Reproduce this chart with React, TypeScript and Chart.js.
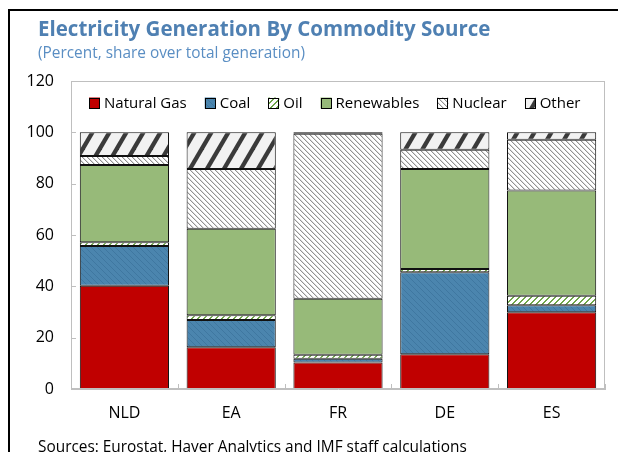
import React, { useEffect, useRef } from "react";
import { Chart, registerables } from "chart.js";

Chart.register(...registerables);

const categories = ["NLD", "EA", "FR", "DE", "ES"];
const seriesLabels = ["Natural Gas", "Coal", "Oil", "Renewables", "Nuclear", "Other"];
const naturalGas = [40.2, 16.3, 10.3, 13.5, 29.9];
const coal = [15.5, 10.6, 1.5, 32.0, 2.7];
const oil = [1.5, 1.8, 1.5, 1.3, 3.7];
const renewables = [30.1, 33.7, 21.9, 38.9, 41.0];
const nuclear = [3.5, 23.3, 64.2, 7.5, 19.8];
const other = [9.2, 14.3, 0.6, 6.8, 2.9];
const yMin = 0;
const yMax = 120;
const yStep = 20;

const TITLE = "Electricity Generation By Commodity Source";
const SUBTITLE = "(Percent, share over total generation)";
const SOURCES = "Sources: Eurostat, Haver Analytics and IMF staff calculations";

const FONT = '"Segoe UI", "Open Sans", "Noto Sans", sans-serif';

function makeTile(w: number, h: number, draw: (c: CanvasRenderingContext2D) => void) {
  const cv = document.createElement("canvas");
  cv.width = w;
  cv.height = h;
  const c = cv.getContext("2d")!;
  draw(c);
  const host = document.createElement("canvas").getContext("2d")!;
  return host.createPattern(cv, "repeat")!;
}

function coalPattern() {
  return makeTile(6, 6, (c) => {
    c.fillStyle = "#4b85ae";
    c.fillRect(0, 0, 6, 6);
    c.fillStyle = "#3f77a0";
    for (let i = 0; i < 6; i++) c.fillRect(i, i, 1, 1);
  });
}

function oilPattern() {
  return makeTile(6, 6, (c) => {
    c.fillStyle = "#ffffff";
    c.fillRect(0, 0, 6, 6);
    c.fillStyle = "#6fa64a";
    for (let i = 0; i < 6; i++) {
      c.fillRect(i, 5 - i, 1, 1);
      c.fillRect((i + 1) % 6, 5 - i, 1, 1);
    }
  });
}

function nuclearPattern() {
  return makeTile(5, 5, (c) => {
    c.fillStyle = "#ffffff";
    c.fillRect(0, 0, 5, 5);
    for (let i = 0; i < 5; i++) {
      c.fillStyle = "#929292";
      c.fillRect(i, i, 1, 1);
      c.fillStyle = "#dcdcdc";
      c.fillRect((i + 1) % 5, i, 1, 1);
    }
  });
}

function otherPattern() {
  const w = 17;
  const h = 29;
  return makeTile(w, h, (c) => {
    c.fillStyle = "#f2f2f2";
    c.fillRect(0, 0, w, h);
    c.strokeStyle = "#3a3a3a";
    c.lineWidth = 4.3;
    for (let k = -1; k <= 1; k++) {
      c.beginPath();
      c.moveTo(k * w - 2, h + 3.4);
      c.lineTo(k * w + w + 2, -3.4);
      c.stroke();
    }
  });
}

const boxPlugin = {
  id: "boxAndTicks",
  afterDraw(chart: any) {
    const { ctx, chartArea } = chart;
    const xs = chart.scales.x;
    const ys = chart.scales.y;
    ctx.save();
    ctx.strokeStyle = "#bfbfbf";
    ctx.lineWidth = 1;
    ctx.strokeRect(
      Math.round(chartArea.left) + 0.5,
      Math.round(chartArea.top) + 0.5,
      Math.round(chartArea.right - chartArea.left) - 1,
      Math.round(chartArea.bottom - chartArea.top) - 1
    );
    ctx.beginPath();
    ys.ticks.forEach((t: any) => {
      const y = Math.round(ys.getPixelForValue(t.value)) + 0.5;
      ctx.moveTo(chartArea.left, y);
      ctx.lineTo(chartArea.left + 5, y);
    });
    for (let i = 0; i <= categories.length; i++) {
      const x = Math.round(xs.getPixelForValue(i - 0.5)) + 0.5;
      ctx.moveTo(x, chartArea.bottom);
      ctx.lineTo(x, chartArea.bottom - 5);
    }
    ctx.stroke();
    ctx.restore();
  },
};

const legendPlugin = {
  id: "innerLegend",
  afterDraw(chart: any) {
    const { ctx, chartArea } = chart;
    ctx.save();
    ctx.font = `15px ${FONT}`;
    ctx.textBaseline = "middle";
    ctx.textAlign = "left";
    let x = chartArea.left + 18;
    const y = chartArea.top + 22;
    chart.data.datasets.forEach((ds: any) => {
      const s = 11;
      ctx.fillStyle = ds.backgroundColor;
      ctx.fillRect(x, y - s / 2, s, s);
      ctx.strokeStyle = "#000";
      ctx.lineWidth = 1;
      ctx.strokeRect(Math.round(x) + 0.5, Math.round(y - s / 2) + 0.5, s - 1, s - 1);
      ctx.fillStyle = "#000";
      ctx.fillText(ds.label, x + s + 4, y + 1);
      x += s + 4 + ctx.measureText(ds.label).width + 18;
    });
    ctx.restore();
  },
};

function ChartBox() {
  const ref = useRef<HTMLCanvasElement>(null);
  useEffect(() => {
    const fills = ["#c00000", coalPattern(), oilPattern(), "#97ba79", nuclearPattern(), otherPattern()];
    const values = [naturalGas, coal, oil, renewables, nuclear, other];
    const chart = new Chart(ref.current!, {
      type: "bar",
      data: {
        labels: categories,
        datasets: seriesLabels.map((label, i) => ({
          label,
          data: values[i],
          backgroundColor: fills[i] as any,
          borderColor: "#111111",
          borderWidth: 1,
          borderSkipped: false,
          barPercentage: 0.835,
          categoryPercentage: 1,
        })),
      },
      options: {
        responsive: false,
        animation: false,
        devicePixelRatio: 1,
        layout: { padding: { top: 81, right: 13, left: 0, bottom: 0 } },
        plugins: {
          legend: { display: false },
          tooltip: { enabled: false },
          title: { display: false },
        },
        scales: {
          x: {
            stacked: true,
            grid: { display: false, drawTicks: false },
            border: { display: true, color: "#bfbfbf", width: 1 },
            ticks: { color: "#000", font: { family: FONT, size: 16 }, padding: 15 },
            afterFit: (s: any) => {
              s.height = 63;
            },
          },
          y: {
            stacked: true,
            min: yMin,
            max: yMax,
            grid: { display: false, drawTicks: false },
            border: { display: true, color: "#bfbfbf", width: 1 },
            ticks: { stepSize: yStep, color: "#000", font: { family: FONT, size: 16 }, padding: 17 },
            afterFit: (s: any) => {
              s.width = 71;
            },
          },
        },
      },
      plugins: [boxPlugin, legendPlugin],
    });
    return () => chart.destroy();
  }, []);
  return <canvas ref={ref} width={618} height={452} style={{ position: "absolute", left: 0, top: 0 }} />;
}

export default function App() {
  return (
    <div
      style={{
        position: "fixed",
        left: 0,
        top: 0,
        width: 618,
        height: 452,
        overflow: "hidden",
        background: "#fff",
        fontFamily: FONT,
      }}
    >
      <ChartBox />
      <div
        style={{
          position: "absolute",
          left: 8,
          top: 9,
          width: 700,
          height: 600,
          borderLeft: "2px solid #000",
          borderTop: "2px solid #000",
          pointerEvents: "none",
        }}
      />
      <div
        style={{
          position: "absolute",
          left: 38,
          top: 14,
          fontSize: 20.5,
          fontWeight: 700,
          color: "#4f80b2",
          whiteSpace: "nowrap",
          lineHeight: "28px",
        }}
      >
        {TITLE}
      </div>
      <div
        style={{
          position: "absolute",
          left: 38,
          top: 42,
          fontSize: 15.4,
          color: "#5a8ec3",
          whiteSpace: "nowrap",
          lineHeight: "22px",
        }}
      >
        {SUBTITLE}
      </div>
      <div
        style={{
          position: "absolute",
          left: 38,
          top: 436,
          fontSize: 15.4,
          color: "#000",
          whiteSpace: "nowrap",
          lineHeight: "22px",
        }}
      >
        {SOURCES}
      </div>
    </div>
  );
}
